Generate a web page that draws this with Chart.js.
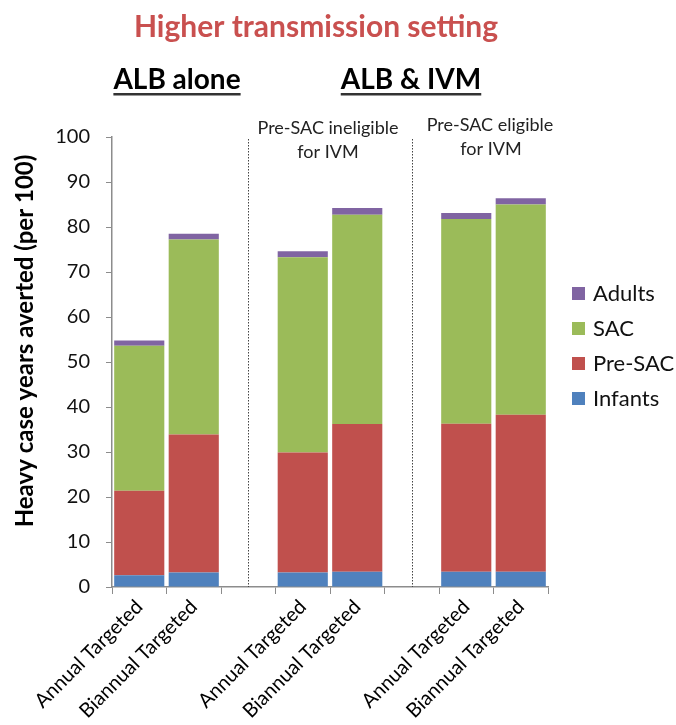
<!DOCTYPE html>
<html>
<head>
<meta charset="utf-8">
<script src="https://cdn.jsdelivr.net/npm/chart.js@4"></script>
<style>
  html, body { margin: 0; padding: 0; background: #fff; }
  #wrap { width: 676px; height: 725px; position: relative; }
</style>
</head>
<body>
<div id="wrap"><canvas id="myChart"></canvas></div>
<script>
"use strict";

// empty slots keep room for the dotted separators
const labels = ["Annual Targeted", "Biannual Targeted", "", "Annual Targeted", "Biannual Targeted", "", "Annual Targeted", "Biannual Targeted"];
const infants = [2.6, 3.2, null, 3.2, 3.4, null, 3.4, 3.4];
const preSac = [18.8, 30.7, null, 26.7, 32.8, null, 32.9, 34.9];
const sac = [32.2, 43.3, null, 43.4, 46.5, null, 45.5, 46.7];
const adults = [1.2, 1.3, null, 1.3, 1.5, null, 1.3, 1.4];
const yTicks = [0, 10, 20, 30, 40, 50, 60, 70, 80, 90, 100];

const FONT = "Lato, 'Open Sans', sans-serif";

const annotations = {
	id: "annotations",
	afterDraw(chart) {
		const ctx = chart.ctx;
		const x = chart.scales.x;
		const area = chart.chartArea;
		ctx.save();

		// title
		ctx.textAlign = "center";
		ctx.textBaseline = "alphabetic";
		ctx.fillStyle = "#c9504f";
		ctx.font = "bold 30px " + FONT;
		ctx.fillText("Higher transmission setting", 316, 37);

		// group headings, underlined
		ctx.font = "bold 28px " + FONT;
		[["ALB alone", 177], ["ALB & IVM", 411]].forEach(function (h) {
			ctx.fillStyle = "#000";
			ctx.fillText(h[0], h[1], 89);
			const w = ctx.measureText(h[0]).width;
			ctx.fillStyle = "#333";
			ctx.fillRect(h[1] - w / 2, 93, w, 2.5);
		});

		// sub-headings
		ctx.fillStyle = "#222";
		ctx.font = "18px " + FONT;
		ctx.fillText("Pre-SAC ineligible", 328, 134);
		ctx.fillText("for IVM", 328, 158);
		ctx.fillText("Pre-SAC eligible", 490, 131);
		ctx.fillText("for IVM", 491, 155);

		// y axis title
		ctx.save();
		ctx.translate(25, 341);
		ctx.rotate(-Math.PI / 2);
		ctx.textBaseline = "middle";
		ctx.fillStyle = "#000";
		ctx.font = "bold 24px " + FONT;
		ctx.fillText("Heavy case years averted (per 100)", 0, 0);
		ctx.restore();

		// dotted separators
		ctx.strokeStyle = "#444";
		ctx.lineWidth = 1;
		ctx.setLineDash([1.5, 1.5]);
		[2, 5].forEach(function (i) {
			const px = Math.round(x.getPixelForValue(i)) + 0.5;
			ctx.beginPath();
			ctx.moveTo(px, area.top + 2);
			ctx.lineTo(px, area.bottom);
			ctx.stroke();
		});
		ctx.setLineDash([]);

		// legend, top to bottom = last dataset first
		ctx.textAlign = "left";
		ctx.textBaseline = "middle";
		ctx.font = "22px " + FONT;
		const items = chart.data.datasets.slice().reverse();
		items.forEach(function (ds, i) {
			const cy = 293 + i * 35;
			ctx.fillStyle = ds.backgroundColor;
			ctx.fillRect(572, cy - 6, 13, 13);
			ctx.fillStyle = "#111";
			ctx.fillText(ds.label, 593, cy + 1);
		});

		ctx.restore();
	}
};

function generateChart() {
	const ctx = document.getElementById("myChart");

	new Chart(ctx, {
		type: "bar",
		data: {
			labels: labels,
			datasets: [
				{ label: "Infants", data: infants, backgroundColor: "#4f81bd" },
				{ label: "Pre-SAC", data: preSac, backgroundColor: "#c0504d" },
				{ label: "SAC", data: sac, backgroundColor: "#9bbb59" },
				{ label: "Adults", data: adults, backgroundColor: "#8064a2" },
			],
		},
		options: {
			responsive: true,
			maintainAspectRatio: false,
			animation: false,
			datasets: {
				bar: { barPercentage: 0.92, categoryPercentage: 1.0 },
			},
			layout: {
				padding: { top: 137, right: 128, left: 0, bottom: 0 },
			},
			plugins: {
				legend: { display: false },
				tooltip: { enabled: false },
			},
			scales: {
				x: {
					stacked: true,
					grid: {
						drawOnChartArea: false,
						drawTicks: true,
						tickLength: 7,
						color: "#8c8c8c",
					},
					border: { color: "#8c8c8c", width: 1.5 },
					ticks: {
						color: "#000",
						font: { family: FONT, size: 20 },
						minRotation: 45,
						maxRotation: 45,
						autoSkip: false,
						padding: 1,
					},
					afterFit(scale) {
						scale.height = 138;
					},
				},
				y: {
					stacked: true,
					min: 0,
					max: 100,
					afterBuildTicks(scale) {
						scale.ticks = yTicks.map(function (v) { return { value: v }; });
					},
					grid: {
						drawOnChartArea: false,
						drawTicks: true,
						tickLength: 6,
						color: "#8c8c8c",
					},
					border: { color: "#8c8c8c", width: 1.5 },
					ticks: {
						color: "#111",
						font: { family: FONT, size: 20 },
						padding: 16,
					},
					afterFit(scale) {
						scale.width = 112;
					},
				},
			},
		},
		plugins: [annotations],
	});
}

generateChart();
</script>
</body>
</html>
